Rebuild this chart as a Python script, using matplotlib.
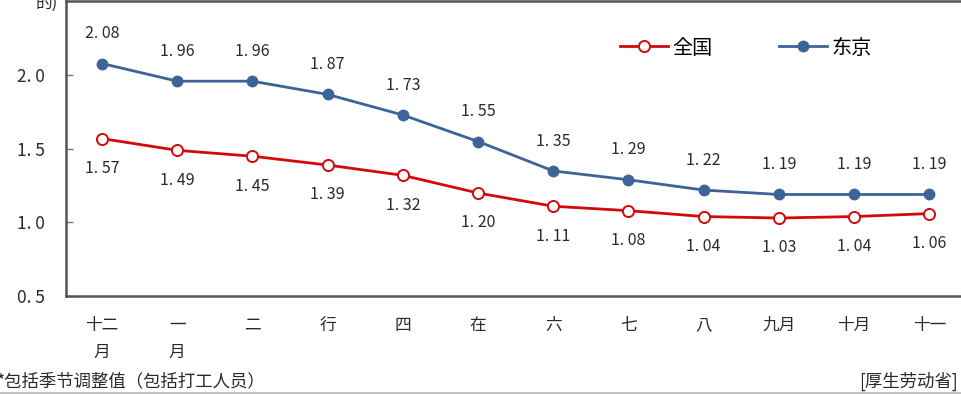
import matplotlib
matplotlib.use("Agg")
import matplotlib.pyplot as plt
from matplotlib.lines import Line2D

plt.rcParams['font.family'] = ['Noto Sans CJK JP', 'DejaVu Sans']

months = ['十二\n月', '一\n月', '二', '行', '四', '在', '六', '七', '八', '九月', '十月', '十一']
national = [1.57, 1.49, 1.45, 1.39, 1.32, 1.20, 1.11, 1.08, 1.04, 1.03, 1.04, 1.06]
tokyo = [2.08, 1.96, 1.96, 1.87, 1.73, 1.55, 1.35, 1.29, 1.22, 1.19, 1.19, 1.19]
yticks = [0.5, 1.0, 1.5, 2.0]

RED = '#d20a0a'
BLUE = '#3d6398'
TXT = '#2a2a2a'

W, H = 961, 394
fig = plt.figure(figsize=(W / 100, H / 100), dpi=100)
ax_w = 1 - 66 / W + 0.01
ax = fig.add_axes([66 / W, 1 - 296 / H, ax_w, 295 / H])

x = list(range(len(months)))
ax.plot(x, national, color=RED, lw=2.0, marker='o', ms=8,
        mfc='white', mec=RED, mew=1.4, zorder=3)
ax.plot(x, tokyo, color=BLUE, lw=2.0, marker='o', ms=7.5,
        mfc=BLUE, mec=BLUE, zorder=3)

def fmt(v):
    return f"{v:.2f}".replace('.', '. ')

for xi, v in zip(x, tokyo):
    ax.annotate(fmt(v), (xi, v), xytext=(0, 21.5), textcoords='offset points',
                ha='center', va='center', fontsize=11.5, color=TXT)
for xi, v in zip(x, national):
    ax.annotate(fmt(v), (xi, v), xytext=(0, -21.5), textcoords='offset points',
                ha='center', va='center', fontsize=11.5, color=TXT)

ax.set_xlim(-0.48, 11.55)
ax.set_ylim(0.5, 2.505)
ax.set_yticks(yticks)
ax.set_yticklabels([f"{t:.1f}".replace('.', '. ') for t in yticks],
                   fontsize=12.5, color=TXT)
ax.tick_params(axis='y', direction='in', length=5, width=1, color='#777777', pad=15)
ax.set_xticks(x)
ax.set_xticklabels(months, fontsize=12, color=TXT, linespacing=1.75, va='top')
ax.tick_params(axis='x', length=0, pad=15)

for side in ['left', 'bottom', 'top']:
    ax.spines[side].set_color('#555555')
    ax.spines[side].set_linewidth(1.8)
ax.spines['right'].set_visible(False)

handles = [
    Line2D([], [], color=RED, lw=2.0, marker='o', ms=8, mfc='white', mec=RED, mew=1.4),
    Line2D([], [], color=BLUE, lw=2.0, marker='o', ms=7.5, mfc=BLUE, mec=BLUE),
]
ax.legend(handles, ['全国', '东京'], loc='center left',
          bbox_to_anchor=((620 - 66) / (ax_w * W), (296 - 48) / 295),
          ncol=2, frameon=False, fontsize=14.5, handlelength=2.4, handletextpad=0.2,
          columnspacing=3.3, borderpad=0, borderaxespad=0)

fig.text(36 / W, 1 - 13 / H, '的)', fontsize=12, color=TXT, ha='left', va='bottom')
fig.text(-3 / W, 1 - 381 / H, '*包括季节调整值（包括打工人员）', fontsize=12.5,
         color=TXT, ha='left', va='center')
fig.text(958 / W, 1 - 381 / H, '[厚生劳动省]', fontsize=12.5,
         color=TXT, ha='right', va='center')
fig.add_artist(Line2D([0, 1], [1.5 / H, 1.5 / H], color='#bbbbbb', lw=2,
                      transform=fig.transFigure))

fig.savefig('out.png', dpi=100)
